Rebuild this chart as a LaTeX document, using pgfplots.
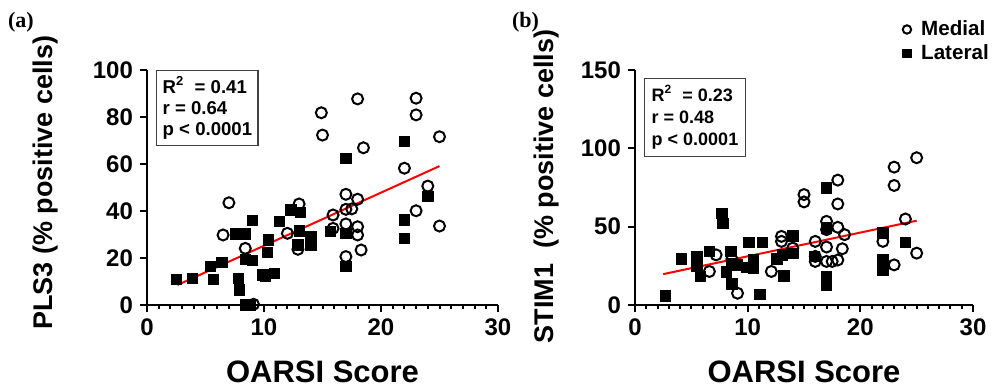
\documentclass[border=0pt]{standalone}
\usepackage{fontspec}
\setmainfont{Liberation Sans}
\newfontfamily\panelfont{Liberation Serif}
\usepackage{pgfplots}
\pgfplotsset{compat=1.18}

\pgfplotsset{
  gp/.style={
    scale only axis, height=117.5pt,
    axis lines=left, axis line style={-, line width=1pt},
    enlargelimits=false,
    tick align=outside, major tick length=3.5pt, minor tick length=2pt,
    every tick/.style={black, line width=1pt},
    xmin=0, xmax=30, xtick={0,10,20,30}, minor x tick num=9,
    ticklabel style={font=\fontsize{12}{12}\selectfont\bfseries},
    /pgf/number format/assume math mode=true,
    xlabel style={font=\fontsize{15.5}{16}\selectfont\bfseries, at={(axis description cs:0.5,0)}, anchor=north, yshift=-24.5pt},
    ylabel style={font=\fontsize{13.5}{14}\selectfont\bfseries, anchor=center, rotate=0},
    clip=false,
  },
  med/.style={only marks, mark=o, mark size=2.75pt, mark options={line width=1pt, black}},
  lat/.style={only marks, mark=square*, mark size=2.6pt, mark options={black, fill=black}},
}

\begin{document}
\begin{tikzpicture}
\path[use as bounding box] (0,0) rectangle (500pt,194.5pt);

% ---------------- panel (a) ----------------
\begin{axis}[gp, at={(73.5pt,42pt)}, anchor=south west, width=175.5pt,
  ymin=0, ymax=100, ytick={0,20,40,60,80,100},
  xlabel={OARSI Score}, ylabel={PLS3 (\% positive cells)},
  ylabel style={at={(axis description cs:-0.288,0.52)}}]
\addplot[lat] coordinates {
(2.5,11) (3.9,11.4) (5.4,16.3) (5.7,11) (6.4,18.2) (7.6,30.2) (7.8,11.4) (7.9,6.4)
(8.4,30.2) (9,35.9) (8.4,19.4) (9,19.1) (8.4,0) (8.8,0) (9.9,12.8) (10.1,12.3)
(10.9,13.5) (10.4,27.7) (10.3,22.3) (11.3,35.5) (12.3,40.4) (13.1,39.3) (13,31.6)
(12.9,25.5) (14,29) (14,25.5) (17,62.4) (15.7,31.2) (17,30.5) (17,16.3)
(22,69.5) (22,36.2) (22,28.4) (24,46.1)};
\addplot[med] coordinates {
(7,43.5) (6.5,29.8) (8.4,24.1) (9.1,0.3) (12,30.5) (13,43) (12.9,23.7)
(14.9,81.8) (15,72.3) (18,87.7) (18.5,66.9) (15.9,38.3) (15.9,32.6) (17,47.1)
(17,40.7) (17.5,40.9) (18,45) (17,34.5) (18,33.3) (18,29.8) (18.3,23.4) (17,20.6)
(23,88) (23,80.9) (22,58.2) (25,71.6) (24,50.6) (23,40.1) (25,33.6)};
\addplot[red, line width=1pt] coordinates {(2.6,8.5) (25,59.1)};
\node[draw=black!75, line width=0.7pt, anchor=north west, align=left,
  font=\fontsize{9.3}{10.5}\selectfont\bfseries, inner sep=3pt]
  at (axis cs:0.77,100) {R\textsuperscript{2}\; = 0.41\\ r = 0.64\\ p < 0.0001};
\end{axis}

% ---------------- panel (b) ----------------
\begin{axis}[gp, at={(317.5pt,42pt)}, anchor=south west, width=169pt,
  ymin=0, ymax=150, ytick={0,50,100,150},
  xlabel={OARSI Score}, ylabel={STIM1\ \ (\% positive cells)},
  ylabel style={at={(axis description cs:-0.263,0.505)}},
  legend style={at={(axis description cs:0.777,1.225)}, anchor=north west,
    draw=none, fill=none, font=\fontsize{10.3}{11}\selectfont\bfseries,
    inner sep=0pt, row sep=0pt, nodes={inner sep=1.5pt}},
  legend image code/.code={\path (0cm,0cm) (0.34cm,0cm);
    \draw[#1, mark size=2.1pt] plot coordinates {(0.15cm,0cm)};},
  legend cell align=left]
\addplot[med] coordinates {
(7.2,32) (6.6,21.4) (8.6,29.3) (9.1,7.5) (12.1,21.4) (13,43.8) (13,40.6) (14,36.3)
(15,70.5) (15,65.8) (16,40.6) (16,31) (16,27.8) (17,53.4) (17,48.1) (17,37)
(17,27.8) (17.5,27.8) (18,28.7) (18,79.7) (18,64.5) (18,49.6) (18.6,44.9)
(18.4,35.9) (22,40.6) (23,88) (23,76.3) (23,25.6) (25,94) (25,33.1) (24,54.9)};
\addlegendentry{Medial}
\addplot[lat] coordinates {
(2.7,5.8) (4.1,29.5) (5.5,31) (5.5,27.8) (5.5,25) (5.8,18.1) (6.6,34.2)
(7.7,58.3) (7.8,51.9) (8.1,21) (8.5,34.2) (8.6,26.7) (8.6,13.5) (9.1,25.6)
(10.1,39.9) (9.9,24.1) (10.5,28.8) (10.5,23.5) (11.1,6.8) (11.3,39.9)
(12.6,29.5) (13.1,32) (13.2,18.6) (14,44.2) (14,33.1) (15.9,31)
(17,74.8) (17,49.1) (17,18.1) (17,12.8) (22,46) (22,28.8) (22,22.4) (24,40)};
\addlegendentry{Lateral}
\addplot[red, line width=1pt, forget plot] coordinates {(2.5,19.7) (25,53.8)};
\node[draw=black!75, line width=0.7pt, anchor=north west, align=left,
  font=\fontsize{9}{11}\selectfont\bfseries, inner sep=3.5pt]
  at (axis cs:0.8,145) {R\textsuperscript{2}\; = 0.23\\ r = 0.48\\ p < 0.0001};
\end{axis}

\node[anchor=west, font=\fontsize{11}{11}\panelfont\bfseries] at (0.5pt,183.5pt) {(a)};
\node[anchor=west, font=\fontsize{11}{11}\panelfont\bfseries] at (252.5pt,183.5pt) {(b)};
\end{tikzpicture}
\end{document}
